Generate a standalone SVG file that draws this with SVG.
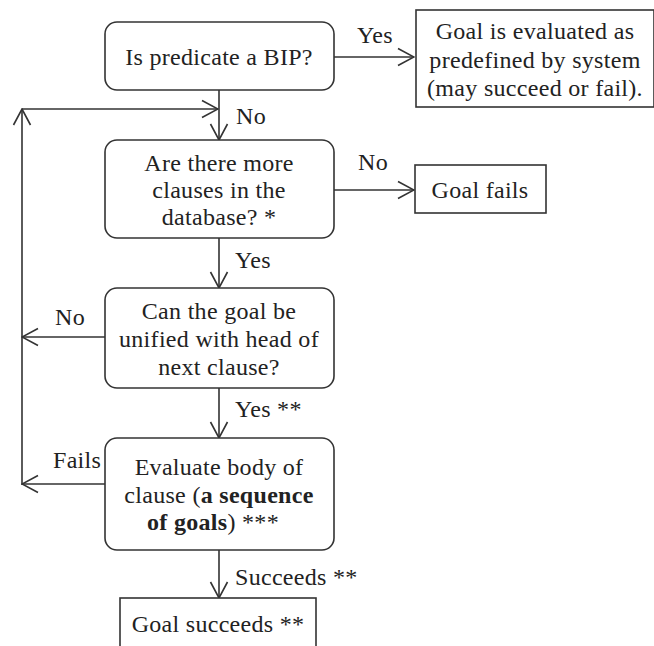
<svg xmlns="http://www.w3.org/2000/svg" width="654" height="646" viewBox="0 0 654 646">
<style>
text{font-size:24px;fill:#222}
.c{text-anchor:middle}
.b{font-weight:bold}
.box{fill:#fff;stroke:#333;stroke-width:1.6}
.ln{fill:none;stroke:#333;stroke-width:1.6}
</style>
<defs>
<marker id="ah" viewBox="0 0 18 20" refX="17" refY="10" markerWidth="18" markerHeight="20" markerUnits="userSpaceOnUse" orient="auto">
<path d="M1,1.5 L17,10 L1,18.5" fill="none" stroke="#333" stroke-width="1.6"/>
</marker>
</defs>
<rect width="654" height="646" fill="#fff"/>
<g font-family="Liberation Serif, Times New Roman, Times, DejaVu Serif, serif" letter-spacing="0.3">
<g id="connectors">
<path class="ln" d="M334,57 H414" marker-end="url(#ah)"/>
<path class="ln" d="M219,90 V140" marker-end="url(#ah)"/>
<path class="ln" d="M334,190 H414" marker-end="url(#ah)"/>
<path class="ln" d="M219,238 V288" marker-end="url(#ah)"/>
<path class="ln" d="M105,337 H22" marker-end="url(#ah)"/>
<path class="ln" d="M219,388 V438" marker-end="url(#ah)"/>
<path class="ln" d="M105,484 H22" marker-end="url(#ah)"/>
<path class="ln" d="M219,550 V598" marker-end="url(#ah)"/>
<path class="ln" d="M22,485 V109" marker-end="url(#ah)"/>
<path class="ln" d="M22,109 H218" marker-end="url(#ah)"/>
<text x="357" y="43">Yes</text>
<text x="236" y="124">No</text>
<text x="358" y="170">No</text>
<text x="235" y="268">Yes</text>
<text x="55" y="325">No</text>
<text x="235" y="417">Yes **</text>
<text x="53" y="468">Fails</text>
<text x="235" y="585">Succeeds **</text>
</g>
<g id="bip">
<rect class="box" x="105" y="22" width="229" height="68" rx="12"/>
<text class="c" x="219" y="65">Is predicate a BIP?</text>
</g>
<g id="predefined">
<rect class="box" x="416" y="10" width="238" height="97"/>
<text class="c" x="535" y="39">Goal is evaluated as</text>
<text class="c" x="535" y="68">predefined by system</text>
<text class="c" x="535" y="96">(may succeed or fail).</text>
</g>
<g id="more-clauses">
<rect class="box" x="105" y="140" width="229" height="98" rx="12"/>
<text class="c" x="219" y="171">Are there more</text>
<text class="c" x="219" y="198">clauses in the</text>
<text class="c" x="219" y="225">database? *</text>
</g>
<g id="goal-fails">
<rect class="box" x="415" y="165" width="131" height="48"/>
<text class="c" x="480" y="198">Goal fails</text>
</g>
<g id="unify">
<rect class="box" x="105" y="288" width="229" height="100" rx="12"/>
<text class="c" x="219" y="319">Can the goal be</text>
<text class="c" x="219" y="347">unified with head of</text>
<text class="c" x="219" y="375">next clause?</text>
</g>
<g id="evaluate">
<rect class="box" x="105" y="438" width="229" height="112" rx="12"/>
<text class="c" x="219" y="475">Evaluate body of</text>
<text class="c" x="219" y="503">clause (<tspan class="b">a sequence</tspan></text>
<text class="c" x="213" y="530"><tspan class="b">of goals</tspan>) ***</text>
</g>
<g id="goal-succeeds">
<rect class="box" x="120" y="598" width="196" height="60"/>
<text class="c" x="218" y="632">Goal succeeds **</text>
</g>
</g>
</svg>
